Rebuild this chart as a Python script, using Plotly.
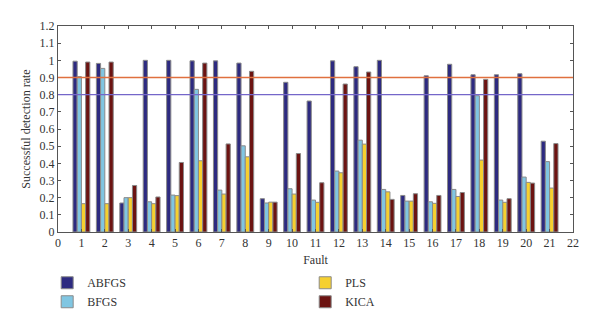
import plotly.graph_objects as go

faults = list(range(1, 22))
abfgs = [0.995, 0.982, 0.169, 1.0, 1.0, 0.997, 0.997, 0.984, 0.194, 0.872, 0.763,
         0.997, 0.963, 1.0, 0.213, 0.91, 0.977, 0.916, 0.916, 0.922, 0.529]
bfgs = [0.905, 0.953, 0.2, 0.176, 0.215, 0.831, 0.244, 0.502, 0.169, 0.252, 0.186,
        0.355, 0.535, 0.248, 0.18, 0.176, 0.248, 0.794, 0.186, 0.32, 0.41]
pls = [0.165, 0.165, 0.2, 0.165, 0.212, 0.415, 0.221, 0.438, 0.174, 0.221, 0.173,
       0.345, 0.512, 0.234, 0.18, 0.167, 0.207, 0.419, 0.173, 0.289, 0.256]
kica = [0.99, 0.99, 0.271, 0.204, 0.405, 0.984, 0.513, 0.936, 0.174, 0.457, 0.287,
        0.862, 0.932, 0.19, 0.223, 0.213, 0.23, 0.889, 0.194, 0.285, 0.515]

threshold_high = 0.9
threshold_low = 0.8

x_ticks = list(range(0, 23))
y_ticks = [0, 0.1, 0.2, 0.3, 0.4, 0.5, 0.6, 0.7, 0.8, 0.9, 1, 1.1, 1.2]
y_labels = ["0", "0.1", "0.2", "0.3", "0.4", "0.5", "0.6", "0.7", "0.8", "0.9", "1", "1.1", "1.2"]

FONT = "Liberation Serif"
series = [
    ("ABFGS", abfgs, "#2d2a80", "legend"),
    ("BFGS", bfgs, "#80c6e2", "legend"),
    ("PLS", pls, "#f6d02f", "legend2"),
    ("KICA", kica, "#6c1311", "legend2"),
]

fig = go.Figure()
for name, vals, color, leg in series:
    fig.add_trace(go.Bar(
        x=faults, y=vals, name=name, legend=leg,
        marker=dict(color=color, line=dict(color="#8a8a8a", width=1)),
    ))

fig.add_hline(y=threshold_high, line=dict(color="#e0703f", width=1.3))
fig.add_hline(y=threshold_low, line=dict(color="#7466c9", width=1.3))

axis_common = dict(
    showline=True, linecolor="#555555", linewidth=1, mirror="ticks",
    ticks="inside", ticklen=3, tickcolor="#555555", showgrid=False, zeroline=False,
    tickfont=dict(family=FONT, size=12, color="#333333"), automargin=False,
)

fig.update_layout(
    width=600, height=326,
    margin=dict(l=58, r=27, t=26, b=94, autoexpand=False),
    paper_bgcolor="white", plot_bgcolor="white",
    barmode="group", bargap=0.28, bargroupgap=0.0,
    font=dict(family=FONT, size=12, color="#333333"),
    xaxis=dict(range=[0, 22], tickvals=x_ticks, **axis_common,
               title=dict(text="Fault", font=dict(family=FONT, size=12), standoff=6)),
    yaxis=dict(range=[0, 1.2], tickvals=y_ticks, ticktext=y_labels, **axis_common,
               title=dict(text="Successful detection rate", font=dict(family=FONT, size=12), standoff=6)),
    legend=dict(x=-0.021, y=-0.176, xanchor="left", yanchor="top", orientation="v",
                font=dict(family=FONT, size=12), tracegroupgap=0, itemwidth=30),
    legend2=dict(x=0.48, y=-0.176, xanchor="left", yanchor="top", orientation="v",
                 font=dict(family=FONT, size=12), tracegroupgap=0, itemwidth=30),
)

fig.write_html("out.html")
